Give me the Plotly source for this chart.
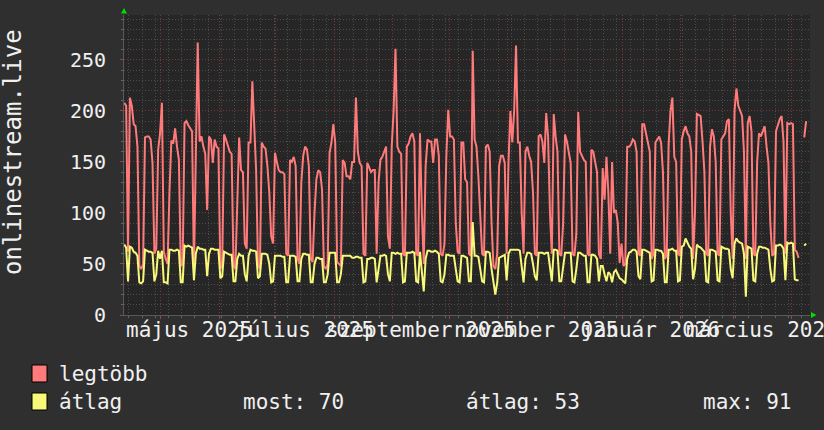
import pandas as pd
import plotly.graph_objects as go

# ---- data (daily values, starting 2025-04-11) ----
start_day = "2025-04-11 12:00"

legtobb = [
    208, 205, 62, 213, 205, 187, 185, 165, 48, 45,
    50, 174, 175, 175, 172, 149, 60, 65, 162, 178,
    208, 62, 55, 50, 120, 171, 168, 183, 165, 152,
    48, 50, 188, 190, 186, 183, 180, 45, 175, 267,
    170, 175, 165, 158, 103, 175, 172, 149, 172, 165,
    163, 45, 50, 177, 172, 165, 160, 158, 48, 45,
    120, 174, 142, 140, 70, 65, 169, 169, 229, 178,
    142, 50, 45, 169, 165, 163, 146, 120, 77, 70,
    159, 150, 142, 140, 140, 138, 60, 58, 152, 150,
    155, 146, 55, 50, 130, 156, 165, 162, 146, 55,
    52, 100, 133, 142, 140, 123, 48, 45, 50, 159,
    169, 187, 169, 52, 50, 48, 152, 149, 136, 136,
    133, 150, 150, 213, 160, 149, 146, 60, 58, 149,
    145, 140, 142, 142, 60, 130, 152, 155, 160, 165,
    77, 65, 165, 200, 261, 165, 160, 158, 60, 58,
    165, 168, 175, 178, 170, 60, 58, 178, 100, 50,
    146, 172, 170, 170, 149, 172, 172, 156, 60, 58,
    70, 156, 201, 175, 175, 172, 90, 62, 60, 169,
    169, 133, 130, 60, 58, 259, 172, 165, 136, 100,
    60, 58, 165, 167, 160, 90, 48, 45, 60, 146,
    156, 156, 149, 60, 150, 200, 169, 200, 264, 169,
    169, 100, 60, 160, 165, 156, 150, 120, 60, 58,
    175, 177, 170, 149, 198, 175, 100, 60, 197, 175,
    160, 60, 58, 90, 177, 170, 160, 149, 60, 58,
    80, 199, 160, 155, 152, 150, 60, 58, 162, 160,
    150, 140, 60, 55, 144, 113, 155, 120, 60, 150,
    100, 103, 90, 51, 70, 48, 50, 165, 165, 167,
    172, 170, 160, 60, 58, 187, 187, 178, 170, 160,
    55, 60, 169, 172, 175, 169, 140, 55, 58, 167,
    200, 213, 155, 150, 60, 58, 172, 180, 185, 178,
    175, 160, 55, 100, 197, 196, 195, 170, 140, 60,
    58, 165, 182, 175, 150, 60, 58, 172, 175, 178,
    190, 192, 100, 55, 200, 222, 205, 200, 195, 160,
    55, 188, 195, 180, 60, 58, 150, 178, 175, 180,
    185, 165, 149, 90, 58, 60, 180, 186, 192, 195,
    170, 60, 188, 187, 188, 187, 64, 62, 56, None,
    None, 174, 190,
]

atlag = [
    69, 66, 33, 67, 66, 62, 61, 58, 32, 31,
    33, 64, 63, 62, 62, 61, 33, 40, 63, 55,
    63, 32, 32, 31, 64, 64, 63, 63, 64, 63,
    32, 32, 68, 67, 68, 67, 66, 34, 60, 67,
    65, 65, 64, 64, 38, 60, 65, 65, 64, 64,
    64, 36, 38, 62, 61, 60, 59, 59, 33, 33,
    55, 60, 58, 58, 40, 33, 58, 64, 63, 63,
    62, 36, 38, 60, 60, 60, 59, 50, 32, 33,
    58, 58, 58, 58, 57, 57, 32, 32, 58, 58,
    58, 57, 33, 33, 55, 60, 60, 59, 59, 32,
    32, 50, 56, 56, 55, 55, 32, 32, 40, 61,
    61, 61, 61, 32, 32, 40, 58, 58, 58, 58,
    58, 56, 56, 57, 57, 56, 56, 32, 33, 55,
    55, 56, 56, 55, 32, 45, 58, 58, 59, 58,
    40, 33, 61, 61, 60, 61, 60, 60, 32, 33,
    61, 61, 61, 62, 61, 33, 32, 62, 45, 23,
    55, 63, 63, 62, 62, 63, 62, 60, 33, 32,
    40, 59, 59, 58, 58, 58, 45, 33, 32, 58,
    58, 57, 56, 33, 33, 91, 58, 58, 57, 45,
    33, 32, 62, 62, 61, 45, 30, 20, 32, 56,
    57, 58, 59, 34, 60, 64, 64, 64, 64, 64,
    63, 45, 32, 55, 61, 61, 60, 50, 38, 34,
    61, 61, 61, 60, 61, 61, 45, 33, 64, 64,
    63, 33, 33, 45, 61, 61, 61, 61, 33, 32,
    45, 61, 61, 59, 58, 58, 32, 32, 59, 59,
    58, 55, 33, 48, 48, 40, 33, 42, 40, 32,
    42, 44, 40, 36, 35, 33, 31, 55, 61, 62,
    64, 64, 62, 38, 35, 64, 64, 63, 62, 61,
    33, 34, 64, 64, 63, 63, 60, 32, 32, 64,
    64, 65, 63, 63, 33, 34, 67, 68, 75, 70,
    67, 65, 35, 45, 69, 67, 66, 64, 62, 33,
    32, 64, 64, 63, 62, 34, 33, 67, 66, 65,
    65, 64, 45, 36, 70, 75, 72, 71, 70, 60,
    18, 67, 66, 65, 34, 33, 60, 67, 67, 66,
    66, 65, 64, 45, 33, 34, 68, 68, 69, 68,
    65, 34, 71, 70, 71, 70, 35, 34, 34, None,
    None, 68, 70,
]

month_labels = ["május 2025", "július 2025", "szeptember 2025",
                "november 2025", "január 2026", "március 2026"]
month_label_dates = ["2025-05-16", "2025-07-16", "2025-09-16",
                     "2025-11-16", "2026-01-16", "2026-03-16"]

y_title = "onlinestream.live"
legend_names = ["legtöbb", "átlag"]
stats_text = ["most: 70", "átlag: 53", "max: 91"]

# ---- figure ----
W, H = 824, 430
L, R, T, B = 124, 14, 15, 115
PW, PH = W - L - R, H - T - B


def px(x):
    return (x - L) / PW


def py(y):
    return (T + PH - y) / PH


dates = pd.date_range(start_day, periods=len(legtobb), freq="D")

RED = "#ff7b7b"
YEL = "#f8f87a"
FONT = "DejaVu Sans Mono"
TXT = "#f0f0f0"
BG = "#2f2f2f"

fig = go.Figure()
fig.add_trace(go.Scatter(x=dates, y=legtobb, mode="lines",
                         line=dict(color=RED, width=2), connectgaps=False,
                         showlegend=False))
fig.add_trace(go.Scatter(x=dates, y=atlag, mode="lines",
                         line=dict(color=YEL, width=2), connectgaps=False,
                         showlegend=False))

major_grid = "#7a3838"
minor_grid = "#4c4c4c"

fig.update_layout(
    width=W, height=H,
    margin=dict(l=L, r=R, t=T, b=B, pad=0),
    paper_bgcolor=BG,
    plot_bgcolor="#262626",
    font=dict(family=FONT, size=20, color=TXT),
    showlegend=False,
    xaxis=dict(
        type="date",
        range=["2025-04-11 08:40", "2026-04-10 13:30"],
        dtick="M1", tick0="2025-05-01",
        showgrid=True, gridcolor=major_grid, griddash="1px,2px", gridwidth=1,
        showticklabels=False,
        ticks="outside", ticklen=3, tickcolor="#a04040",
        showline=True, linecolor="#5a5a5a", linewidth=1,
        zeroline=False,
        minor=dict(dtick=7 * 86400000, tick0="2025-04-14",
                   showgrid=True, gridcolor=minor_grid, griddash="1px,2px",
                   ticks="outside", ticklen=2, tickcolor="#666666"),
    ),
    yaxis=dict(
        range=[0, 294],
        dtick=50, tick0=0,
        showgrid=True, gridcolor=major_grid, griddash="1px,2px", gridwidth=1,
        ticks="outside", ticklen=3, tickcolor="#a04040",
        ticklabelstandoff=10,
        tickfont=dict(family=FONT, size=20, color=TXT),
        showline=True, linecolor="#5a5a5a", linewidth=1,
        zeroline=False,
        minor=dict(dtick=10, showgrid=True, gridcolor=minor_grid,
                   griddash="1px,2px", ticks="outside", ticklen=2,
                   tickcolor="#666666"),
    ),
)

annotations = []
for lab, d in zip(month_labels, month_label_dates):
    annotations.append(dict(x=d, y=py(330), xref="x", yref="paper",
                            text=lab, showarrow=False, xanchor="center",
                            yanchor="middle",
                            font=dict(family=FONT, size=21, color=TXT)))

annotations.append(dict(x=px(13), y=py(152), xref="paper", yref="paper",
                        text=y_title, textangle=-90, showarrow=False,
                        xanchor="center", yanchor="middle",
                        font=dict(family=FONT, size=24, color=TXT)))

annotations.append(dict(x=px(57), y=py(374), xref="paper", yref="paper",
                        text=legend_names[0], showarrow=False,
                        xanchor="left", yanchor="middle",
                        font=dict(family=FONT, size=21, color=TXT)))
annotations.append(dict(x=px(57), y=py(402), xref="paper", yref="paper",
                        text=legend_names[1], showarrow=False,
                        xanchor="left", yanchor="middle",
                        font=dict(family=FONT, size=21, color=TXT)))
for txt, xs in zip(stats_text, [241, 464, 701]):
    annotations.append(dict(x=px(xs), y=py(402), xref="paper", yref="paper",
                            text=txt, showarrow=False,
                            xanchor="left", yanchor="middle",
                            font=dict(family=FONT, size=21, color=TXT)))

shapes = [
    dict(type="rect", xref="paper", yref="paper",
         x0=px(32), x1=px(47), y0=py(365), y1=py(382),
         fillcolor=RED, line=dict(color="#000000", width=1)),
    dict(type="rect", xref="paper", yref="paper",
         x0=px(32), x1=px(47), y0=py(393), y1=py(410),
         fillcolor=YEL, line=dict(color="#000000", width=1)),
    # axis arrows
    dict(type="path", xref="paper", yref="paper",
         path=f"M {px(121)} {py(13.5)} L {px(127)} {py(13.5)} L {px(124)} {py(8)} Z",
         fillcolor="#00dd00", line=dict(color="#00dd00", width=0)),
    dict(type="path", xref="paper", yref="paper",
         path=f"M {px(811)} {py(312)} L {px(811)} {py(318)} L {px(816.5)} {py(315)} Z",
         fillcolor="#00dd00", line=dict(color="#00dd00", width=0)),
]

fig.update_layout(annotations=annotations, shapes=shapes)

fig.write_html(
    "out.html",
    config={"displayModeBar": False},
    post_script=("document.body.style.margin='0';"
                 "document.body.style.background='" + BG + "';"
                 "document.body.style.overflow='hidden';"),
)
